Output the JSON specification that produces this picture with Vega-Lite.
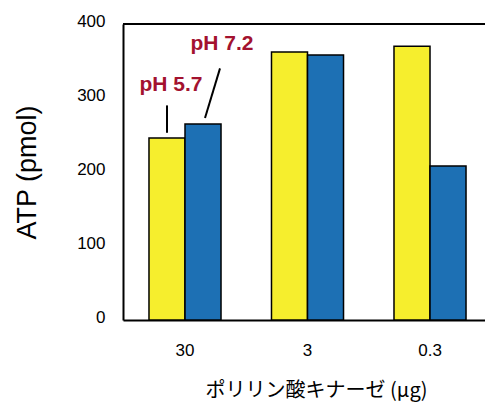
{
  "$schema": "https://vega.github.io/schema/vega-lite/v6.json",
  "autosize": {"type": "none"},
  "padding": {"left": 123, "top": 24, "right": 0, "bottom": 84},
  "width": 362,
  "height": 296,
  "background": "white",
  "config": {"view": {"stroke": null}, "font": "Liberation Sans"},
  "layer": [
    {
      "data": {"values": [
        {"kinase": "30", "pH": "pH 5.7", "atp": 246},
        {"kinase": "30", "pH": "pH 7.2", "atp": 265},
        {"kinase": "3", "pH": "pH 5.7", "atp": 362},
        {"kinase": "3", "pH": "pH 7.2", "atp": 358},
        {"kinase": "0.3", "pH": "pH 5.7", "atp": 370},
        {"kinase": "0.3", "pH": "pH 7.2", "atp": 208}
      ]},
      "mark": {"type": "bar", "stroke": "black", "strokeWidth": 1.5},
      "encoding": {
        "x": {
          "field": "kinase", "type": "nominal", "sort": ["30", "3", "0.3"],
          "scale": {"paddingInner": 0.412, "paddingOuter": 0.1835, "align": 0.578},
          "title": "ポリリン酸キナーゼ (μg)",
          "axis": {
            "labelAngle": 0, "domainColor": "black", "domainWidth": 2, "ticks": false,
            "labelFontSize": 17, "labelPadding": 22, "labelColor": "black",
            "titleFont": "Noto Sans CJK JP", "titleFontSize": 20, "titleFontWeight": "normal",
            "titleColor": "black", "titlePadding": 22, "titleX": 193
          }
        },
        "xOffset": {
          "field": "pH", "type": "nominal", "sort": ["pH 5.7", "pH 7.2"],
          "scale": {"paddingInner": 0, "paddingOuter": 0}
        },
        "y": {
          "field": "atp", "type": "quantitative",
          "scale": {"domain": [0, 400], "nice": false},
          "title": "ATP (pmol)",
          "axis": {
            "values": [0, 100, 200, 300, 400], "grid": false, "ticks": false,
            "domainColor": "black", "domainWidth": 2,
            "labelFontSize": 17, "labelPadding": 18, "labelOffset": -3, "labelColor": "black",
            "titleFontSize": 27, "titleFontWeight": "normal", "titleColor": "black", "titlePadding": 35
          }
        },
        "color": {
          "field": "pH", "type": "nominal",
          "scale": {"domain": ["pH 5.7", "pH 7.2"], "range": ["#f6ee2d", "#1d70b4"]},
          "legend": null
        }
      }
    },
    {
      "data": {"values": [{"frame": 400}]},
      "mark": {"type": "rule", "color": "black", "strokeWidth": 2},
      "encoding": {"y": {"field": "frame", "type": "quantitative"}}
    },
    {
      "data": {"values": [{"kinase": "30", "pH": "pH 5.7", "label": "pH 5.7", "atp": 309}]},
      "mark": {"type": "text", "fontSize": 21, "fontWeight": "bold", "color": "#a3122f", "align": "center", "baseline": "alphabetic", "dx": 4},
      "encoding": {
        "x": {"field": "kinase", "type": "nominal", "sort": ["30", "3", "0.3"]},
        "xOffset": {"field": "pH", "type": "nominal", "sort": ["pH 5.7", "pH 7.2"]},
        "y": {"field": "atp", "type": "quantitative"},
        "text": {"field": "label"}
      }
    },
    {
      "data": {"values": [{"kinase": "30", "pH": "pH 7.2", "label": "pH 7.2", "atp": 365}]},
      "mark": {"type": "text", "fontSize": 21, "fontWeight": "bold", "color": "#a3122f", "align": "center", "baseline": "alphabetic", "dx": 19},
      "encoding": {
        "x": {"field": "kinase", "type": "nominal", "sort": ["30", "3", "0.3"]},
        "xOffset": {"field": "pH", "type": "nominal", "sort": ["pH 5.7", "pH 7.2"]},
        "y": {"field": "atp", "type": "quantitative"},
        "text": {"field": "label"}
      }
    },
    {
      "data": {"values": [{"kinase": "30", "pH": "pH 5.7", "from": 253, "to": 290}]},
      "mark": {"type": "rule", "color": "black", "strokeWidth": 2},
      "encoding": {
        "x": {"field": "kinase", "type": "nominal", "sort": ["30", "3", "0.3"]},
        "xOffset": {"field": "pH", "type": "nominal", "sort": ["pH 5.7", "pH 7.2"]},
        "y": {"field": "from", "type": "quantitative"},
        "y2": {"field": "to"}
      }
    },
    {
      "data": {"values": [{"kinase": "30", "from": 273, "to": 340}]},
      "mark": {"type": "rule", "color": "black", "strokeWidth": 2, "xOffset": 20, "x2Offset": 35},
      "encoding": {
        "x": {"field": "kinase", "type": "nominal", "sort": ["30", "3", "0.3"]},
        "x2": {"field": "kinase"},
        "y": {"field": "from", "type": "quantitative"},
        "y2": {"field": "to"}
      }
    }
  ]
}
